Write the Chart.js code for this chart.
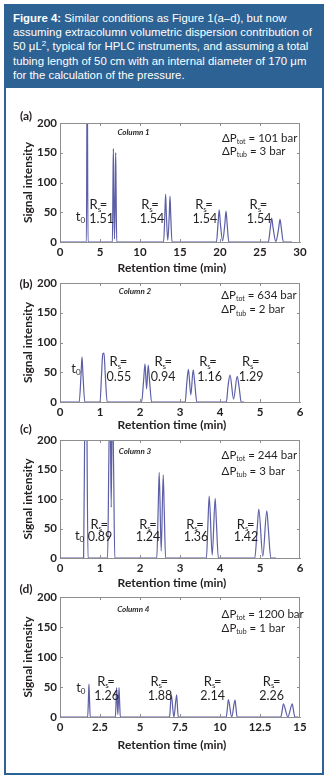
<!DOCTYPE html>
<html><head><meta charset="utf-8">
<title>Figure 4</title>
<script src="https://cdn.jsdelivr.net/npm/chart.js@4.4.1/dist/chart.umd.min.js"></script>
<style>
html,body{margin:0;padding:0;background:#fff;}
#wrap{position:relative;width:328px;height:780px;overflow:hidden;background:#fff;}
#frame{position:absolute;left:4px;top:4px;width:316px;height:767px;border:2px solid #2d6394;}
#head{position:absolute;left:4px;top:4px;width:320px;height:84px;background:#2d6394;color:#fff;font-family:"Liberation Sans",Arial,sans-serif;font-size:11.4px;line-height:14.2px;padding:7px 0 0 9px;box-sizing:border-box;white-space:nowrap;}
#head sup{font-size:8px;line-height:0;vertical-align:4px;}
canvas{position:absolute;left:0;}
</style></head>
<body><div id="wrap">
<div id="frame"></div>
<div id="head"><b>Figure 4:</b> Similar conditions as Figure 1(a–d), but now<br>assuming extracolumn volumetric dispersion contribution of<br>50 μL<sup>2</sup>, typical for HPLC instruments, and assuming a total<br>tubing length of 50 cm with an internal diameter of 170 μm<br>for the calculation of the pressure.</div>
<canvas id="ca" width="328" height="175" style="top:101px"></canvas>
<canvas id="cb" width="328" height="175" style="top:261px"></canvas>
<canvas id="cc" width="328" height="174" style="top:418px"></canvas>
<canvas id="cd" width="328" height="176" style="top:575px"></canvas>
</div>
<script>
// ---------------- data ----------------
const timeA   = [0, 3.3, 3.4, 3.5, 6.55, 6.62, 6.67, 6.72, 6.81, 6.91, 6.96, 7.01, 7.09, 12.95, 13.11, 13.2, 13.29, 13.47, 13.66, 13.75, 13.84, 14.0, 19.55, 19.76, 19.9, 20.04, 20.33, 20.61, 20.75, 20.89, 21.1, 26.04, 26.29, 26.46, 26.63, 26.98, 27.33, 27.5, 27.67, 27.92, 29];
const signalA = [0, 0, 320, 0, 0, 95, 157, 95, 5, 90, 150, 90, 0, 0, 48, 80, 48, 3, 46, 77, 46, 0, 0, 32, 54, 32, 2, 31, 52, 31, 0, 0, 24, 40, 24, 1, 23, 38, 23, 0, 0];

const timeB   = [0, 0.48, 0.525, 0.55, 0.575, 0.62, 1.0, 1.04, 1.07, 1.1, 1.13, 1.18, 2.04, 2.09, 2.125, 2.165, 2.205, 2.24, 2.29, 3.13, 3.17, 3.21, 3.27, 3.33, 3.37, 3.42, 4.16, 4.2, 4.25, 4.34, 4.43, 4.48, 4.53, 4.6];
const signalB = [0, 0, 45, 76, 45, 0, 0, 48, 81, 82, 48, 0, 0, 36, 64, 22, 62, 35, 0, 0, 32, 55, 12, 54, 31, 0, 0, 26, 45, 5, 43, 24, 0, 0];

const timeC   = [0, 0.59, 0.62, 0.645, 0.67, 0.7, 1.19, 1.22, 1.25, 1.28, 1.31, 1.34, 1.37, 2.42, 2.455, 2.48, 2.53, 2.58, 2.605, 2.64, 3.66, 3.7, 3.73, 3.805, 3.88, 3.91, 3.96, 4.87, 4.93, 4.97, 5.07, 5.17, 5.21, 5.27, 5.4];
const signalC = [0, 0, 250, 420, 250, 0, 0, 160, 300, 86, 290, 155, 0, 0, 85, 145, 12, 141, 83, 0, 0, 62, 105, 5, 101, 60, 0, 0, 50, 83, 3, 80, 48, 0, 0];

const timeD   = [0, 1.73, 1.78, 1.81, 1.84, 1.89, 3.46, 3.51, 3.54, 3.615, 3.69, 3.72, 3.77, 6.85, 6.91, 6.95, 7.12, 7.29, 7.33, 7.39, 10.39, 10.47, 10.52, 10.73, 10.94, 10.99, 11.07, 13.8, 13.9, 13.96, 14.24, 14.52, 14.58, 14.68, 14.9];
const signalD = [0, 0, 33, 55, 33, 0, 0, 30, 49, 4, 49, 30, 0, 0, 23, 38, 0, 37, 22, 0, 0, 17, 29, 0, 28, 17, 0, 0, 13, 22, 0, 22, 13, 0, 0];

const yTicks   = [0, 50, 100, 150, 200];
const xTicksA  = [0, 5, 10, 15, 20, 25, 30];
const xTicksB  = [0, 1, 2, 3, 4, 5, 6];
const xTicksC  = [0, 1, 2, 3, 4, 5, 6];
const xTicksD  = [0, 2.5, 5, 7.5, 10, 12.5, 15];
const xLabelsD = ['0', '2.5', '5', '7.5', '10', '12.5', '15'];

const rsA = ['1.51', '1.54', '1.54', '1.54'];
const rsB = ['0.55', '0.94', '1.16', '1.29'];
const rsC = ['0.89', '1.24', '1.36', '1.42'];
const rsD = ['1.26', '1.88', '2.14', '2.26'];

const columnNames = ['Column 1', 'Column 2', 'Column 3', 'Column 4'];
const dPtot = [101, 634, 244, 1200];
const dPtub = [3, 2, 3, 1];
const panelLetters = ['(a)', '(b)', '(c)', '(d)'];

// ---------------- style ----------------
const LINE = '#5c5ea6';
const AXIS = '#8e8e8e';
const TXT  = '#231f20';
const FONT = 'Lato, "Open Sans", sans-serif';

// annotation placement (data coordinates) per panel
const layoutInfo = [
  {t0:{x:2.55,y:42}, rsX:[4.8,11.25,18.0,24.8], numX:[5.2,11.5,18.1,24.9], rsY:62, numY:39, col:{x:9.2,y:184}, dp:{x:20.25,y1:174,y2:152}, letterDy:-7, xTitleDy:26},
  {t0:{x:0.4,y:55}, rsX:[1.46,2.58,3.7,4.77], numX:[1.47,2.58,3.74,4.78], rsY:67, numY:42, col:{x:1.875,y:186}, dp:{x:4.03,y1:180,y2:155}, letterDy:1, xTitleDy:23},
  {t0:{x:0.49,y:38}, rsX:[0.98,2.2,3.375,4.64], numX:[1.0,2.2,3.4,4.65], rsY:57, numY:35, col:{x:1.875,y:180}, dp:{x:4.04,y1:174,y2:147}, letterDy:-11, xTitleDy:25},
  {t0:{x:1.3,y:49}, rsX:[2.875,6.2,9.54,13.23], numX:[2.92,6.25,9.54,13.23], rsY:59, numY:35, col:{x:4.58,y:180}, dp:{x:10.1,y1:171,y2:148}, letterDy:-8, xTitleDy:28}
];

function fontStr(r){ return (r.style||'normal')+' '+(r.weight||400)+' '+r.size+'px '+FONT; }
function drawRuns(ctx, runs, x, y, align){
  let w = 0;
  runs.forEach(r => { ctx.font = fontStr(r); r.w = ctx.measureText(r.t).width + (r.dx||0); w += r.w; });
  let cx = align === 'center' ? x - w/2 : (align === 'right' ? x - w : x);
  ctx.textAlign = 'left'; ctx.textBaseline = 'middle';
  runs.forEach(r => { ctx.font = fontStr(r); ctx.fillText(r.t, cx, y + (r.dy||0)); cx += r.w; });
}

function makeDecor(idx, rsVals){
  const L = layoutInfo[idx];
  return {
    id: 'decor' + idx,
    afterDraw(chart){
      const ctx = chart.ctx, a = chart.chartArea, xs = chart.scales.x, ys = chart.scales.y;
      ctx.save();
      ctx.strokeStyle = AXIS; ctx.lineWidth = 1;
      ctx.beginPath();
      ctx.moveTo(a.left, Math.round(a.top) + 0.5); ctx.lineTo(a.right, Math.round(a.top) + 0.5);
      ctx.moveTo(Math.round(a.right) - 0.5, a.top); ctx.lineTo(Math.round(a.right) - 0.5, a.bottom);
      xs.ticks.forEach(t => {
        const px = Math.round(xs.getPixelForValue(t.value)) + 0.5;
        if (px <= a.left + 1 || px >= a.right - 1) return;
        ctx.moveTo(px, a.bottom); ctx.lineTo(px, a.bottom - 3);
        ctx.moveTo(px, a.top); ctx.lineTo(px, a.top + 3);
      });
      ys.ticks.forEach(t => {
        const py = Math.round(ys.getPixelForValue(t.value)) + 0.5;
        if (py <= a.top + 1 || py >= a.bottom - 1) return;
        ctx.moveTo(a.left, py); ctx.lineTo(a.left + 3, py);
        ctx.moveTo(a.right, py); ctx.lineTo(a.right - 3, py);
      });
      ctx.stroke();

      ctx.fillStyle = TXT;
      drawRuns(ctx, [{t:'Retention time (min)', size:12, weight:700}], (a.left + a.right)/2 - 8, a.bottom + L.xTitleDy, 'center');
      ctx.save();
      ctx.translate(28, (a.top + a.bottom)/2);
      ctx.rotate(-Math.PI/2);
      drawRuns(ctx, [{t:'Signal intensity', size:12, weight:700}], 0, 0, 'center');
      ctx.restore();
      drawRuns(ctx, [{t:panelLetters[idx], size:12, weight:700}], 26, a.top + L.letterDy, 'center');
      drawRuns(ctx, [{t:columnNames[idx], size:8, weight:700, style:'italic'}], xs.getPixelForValue(L.col.x), ys.getPixelForValue(L.col.y), 'center');
      const dx = xs.getPixelForValue(L.dp.x);
      drawRuns(ctx, [{t:'ΔP', size:11.5}, {t:'tot', size:7, dy:3.5}, {t:' = ' + dPtot[idx] + ' bar', size:11.5}], dx, ys.getPixelForValue(L.dp.y1), 'left');
      drawRuns(ctx, [{t:'ΔP', size:11.5}, {t:'tub', size:7, dy:3.5}, {t:' = ' + dPtub[idx] + ' bar', size:11.5}], dx, ys.getPixelForValue(L.dp.y2), 'left');
      drawRuns(ctx, [{t:'t', size:13}, {t:'0', size:8, dy:3.5}], xs.getPixelForValue(L.t0.x), ys.getPixelForValue(L.t0.y), 'center');
      rsVals.forEach((v, i) => {
        drawRuns(ctx, [{t:'R', size:13}, {t:'s', size:8, dy:4, dx:-1.5}, {t:'=', size:13}], xs.getPixelForValue(L.rsX[i]), ys.getPixelForValue(L.rsY), 'center');
        drawRuns(ctx, [{t:v, size:12.5}], xs.getPixelForValue(L.numX[i]), ys.getPixelForValue(L.numY), 'center');
      });
      ctx.restore();
    }
  };
}

function makeChart(idx, canvasId, times, signal, xMax, xTicks, xLabels, rsVals){
  const pts = times.map((t, i) => ({x: t, y: signal[i]}));
  return new Chart(document.getElementById(canvasId), {
    type: 'line',
    data: { datasets: [{ data: pts, borderColor: LINE, borderWidth: 1.2, pointRadius: 0, fill: false, cubicInterpolationMode: 'monotone' }] },
    options: {
      responsive: false, animation: false, devicePixelRatio: 1, parsing: false,
      layout: { padding: { top: 22, right: 28, left: 0, bottom: 0 } },
      plugins: { legend: { display: false }, tooltip: { enabled: false } },
      scales: {
        x: {
          type: 'linear', min: 0, max: xMax,
          afterBuildTicks: s => { s.ticks = xTicks.map(v => ({ value: v })); },
          afterFit: s => { s.height = 34; },
          ticks: { autoSkip: false, maxRotation: 0, padding: 3, color: TXT, font: { family: FONT, size: 11.5, weight: 700 },
                   callback: (v, i) => xLabels ? xLabels[i] : String(v) },
          grid: { display: true, drawOnChartArea: false, drawTicks: false },
          border: { display: true, color: AXIS, width: 1 }
        },
        y: {
          type: 'linear', min: 0, max: 200,
          afterBuildTicks: s => { s.ticks = yTicks.map(v => ({ value: v })); },
          afterFit: s => { s.width = 60; },
          ticks: { autoSkip: false, padding: 3, color: TXT, font: { family: FONT, size: 11.5, weight: 700 },
                   callback: (v) => String(v) },
          grid: { display: true, drawOnChartArea: false, drawTicks: false },
          border: { display: true, color: AXIS, width: 1 }
        }
      }
    },
    plugins: [makeDecor(idx, rsVals)]
  });
}

makeChart(0, 'ca', timeA, signalA, 30, xTicksA, null, rsA);
makeChart(1, 'cb', timeB, signalB, 6, xTicksB, null, rsB);
makeChart(2, 'cc', timeC, signalC, 6, xTicksC, null, rsC);
makeChart(3, 'cd', timeD, signalD, 15, xTicksD, xLabelsD, rsD);
</script>
</body></html>
